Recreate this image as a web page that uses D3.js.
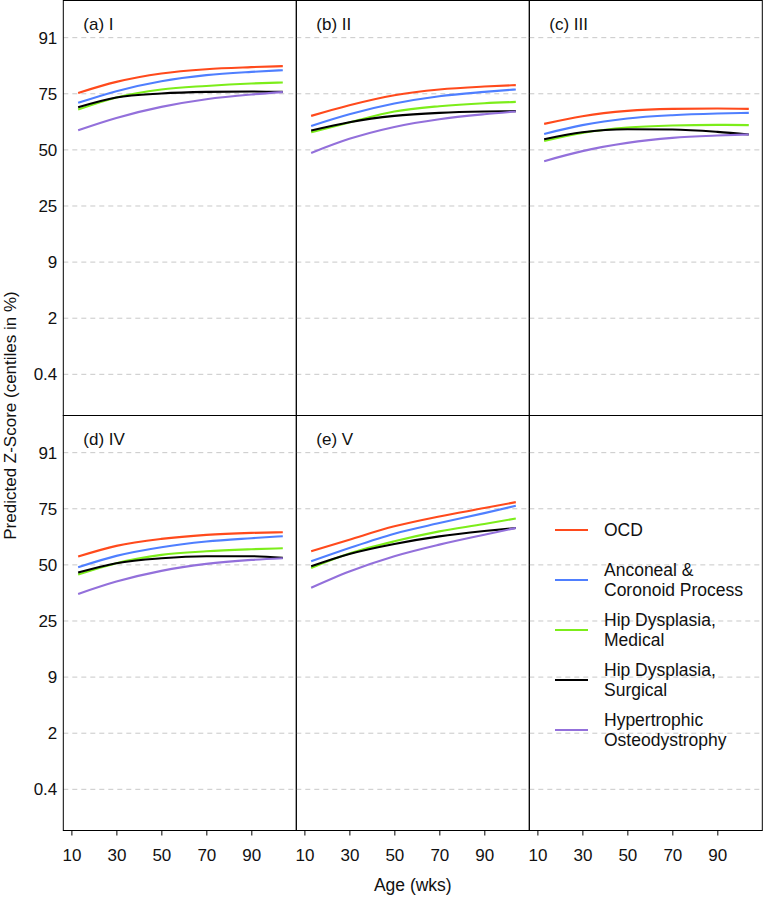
<!DOCTYPE html>
<html>
<head>
<meta charset="utf-8">
<script src="https://cdn.jsdelivr.net/npm/d3@7"></script>
<style>
  html, body { margin: 0; padding: 0; background: #fff; }
  svg { display: block; font-family: "Liberation Sans", Arial, sans-serif; }
</style>
</head>
<body>
<svg id="chart" width="763" height="899"></svg>
<script>
// ---- data (z-scores) ----
const ages = [13, 30, 50, 70, 90, 104];
const panelLabels = ["(a) I", "(b) II", "(c) III", "(d) IV", "(e) V"];
const seriesNames = ["OCD", "Anconeal & Coronoid Process", "Hip Dysplasia, Medical", "Hip Dysplasia, Surgical", "Hypertrophic Osteodystrophy"];
const legendLines = [["OCD"], ["Anconeal &", "Coronoid Process"], ["Hip Dysplasia,", "Medical"], ["Hip Dysplasia,", "Surgical"], ["Hypertrophic", "Osteodystrophy"]];
const seriesColors = ["#ff4a1c", "#4f7fff", "#7ced1a", "#000000", "#9370db"];

// each array: one row per panel (a..e), values at `ages`
const ocd = [
  [0.677, 0.808, 0.908, 0.959, 0.983, 0.995],
  [0.404, 0.531, 0.650, 0.718, 0.753, 0.769],
  [0.309, 0.400, 0.463, 0.487, 0.492, 0.487],
  [0.099, 0.226, 0.309, 0.357, 0.380, 0.388],
  [0.162, 0.300, 0.458, 0.576, 0.675, 0.746]
];
const anconeal = [
  [0.559, 0.698, 0.816, 0.888, 0.927, 0.947],
  [0.285, 0.424, 0.551, 0.638, 0.689, 0.718],
  [0.190, 0.294, 0.373, 0.412, 0.432, 0.440],
  [-0.028, 0.107, 0.210, 0.277, 0.317, 0.341],
  [0.043, 0.201, 0.371, 0.497, 0.615, 0.702]
];
const hipMedical = [
  [0.480, 0.623, 0.718, 0.760, 0.789, 0.801],
  [0.210, 0.326, 0.456, 0.519, 0.555, 0.570],
  [0.107, 0.202, 0.266, 0.290, 0.297, 0.294],
  [-0.115, 0.020, 0.119, 0.162, 0.186, 0.198],
  [-0.036, 0.134, 0.280, 0.398, 0.485, 0.552]
];
const hipSurgical = [
  [0.507, 0.623, 0.670, 0.689, 0.694, 0.689],
  [0.230, 0.329, 0.404, 0.440, 0.456, 0.460],
  [0.127, 0.210, 0.246, 0.242, 0.214, 0.183],
  [-0.091, 0.020, 0.079, 0.103, 0.103, 0.083],
  [-0.016, 0.130, 0.249, 0.339, 0.402, 0.438]
];
const hypertrophic = [
  [0.234, 0.380, 0.511, 0.602, 0.658, 0.686],
  [-0.036, 0.131, 0.273, 0.365, 0.424, 0.456],
  [-0.134, -0.015, 0.083, 0.143, 0.171, 0.183],
  [-0.345, -0.198, -0.071, 0.012, 0.059, 0.079],
  [-0.272, -0.079, 0.103, 0.241, 0.359, 0.438]
];
const allSeries = [ocd, anconeal, hipMedical, hipSurgical, hypertrophic];

const yTickZ = [-8/3, -2, -4/3, -2/3, 0, 2/3, 4/3];
const yTickLabels = ["0.4", "2", "9", "25", "50", "75", "91"];
const xTicks = [10, 30, 50, 70, 90];

// ---- layout ----
const svg = d3.select("#chart");
const left = 63.3, panelW = 233, panelH = 415;
const rowTop = [0.5, 415.5];
const FS = 17;
const x = d3.scaleLinear().domain([6.4, 110.0]).range([0, panelW]);
const y = d3.scaleLinear().domain([-3.156, 1.775]).range([panelH, 0]);
const line = d3.line().x(d => x(d[0])).y(d => y(d[1])).curve(d3.curveMonotoneX);

for (let p = 0; p < 6; p++) {
  const col = p % 3, row = Math.floor(p / 3);
  const g = svg.append("g").attr("transform", `translate(${left + col * panelW},${rowTop[row]})`);

  // gridlines
  g.append("g").selectAll("line").data(yTickZ).join("line")
    .attr("x1", 0).attr("x2", panelW)
    .attr("y1", d => y(d)).attr("y2", d => y(d))
    .attr("stroke", "#c8c8c8").attr("stroke-width", 1)
    .attr("stroke-dasharray", "5,4");

  if (p < 5) {
    allSeries.forEach((s, i) => {
      const pts = ages.map((a, k) => [a, s[p][k]]);
      g.append("path").datum(pts)
        .attr("d", line).attr("fill", "none")
        .attr("stroke", seriesColors[i]).attr("stroke-width", 2.1);
    });
    g.append("text").attr("x", 20).attr("y", 29)
      .attr("font-size", FS).attr("fill", "#111").text(panelLabels[p]);
  } else {
    // legend
    const lg = g.append("g");
    legendLines.forEach((lines, i) => {
      const ly = 114.5 + i * 50;
      lg.append("line").attr("x1", 25.7).attr("x2", 58.7).attr("y1", ly).attr("y2", ly)
        .attr("stroke", seriesColors[i]).attr("stroke-width", 2.1);
      const t = lg.append("text").attr("x", 74.7).attr("font-size", 17.5).attr("fill", "#111");
      const n = lines.length;
      lines.forEach((ln, j) => {
        t.append("tspan").attr("x", 74.7)
          .attr("y", ly + (j - (n - 1) / 2) * 20.5)
          .attr("dy", "0.35em").text(ln);
      });
    });
  }

  // border
  g.append("rect").attr("x", 0).attr("y", 0).attr("width", panelW).attr("height", panelH)
    .attr("fill", "none").attr("stroke", "#000").attr("stroke-width", 1);

  // y-axis labels (first column)
  if (col === 0) {
    const ya = d3.axisLeft(y).tickValues(yTickZ).tickSize(0).tickPadding(6)
      .tickFormat((d, i) => yTickLabels[i]);
    const yg = g.append("g").call(ya);
    yg.select(".domain").remove();
    yg.selectAll("text").attr("font-size", FS).attr("fill", "#111")
      .attr("font-family", "Liberation Sans, Arial, sans-serif");
  }
  // x-axis (bottom row)
  if (row === 1) {
    const xa = d3.axisBottom(x).tickValues(xTicks).tickSize(5).tickPadding(13).tickFormat(d3.format("d"));
    const xg = g.append("g").attr("transform", `translate(0,${panelH})`).call(xa);
    xg.select(".domain").remove();
    xg.selectAll("line").attr("stroke", "#000");
    xg.selectAll("text").attr("font-size", FS).attr("fill", "#111")
      .attr("font-family", "Liberation Sans, Arial, sans-serif");
  }
}

// axis titles
svg.append("text").attr("x", left + 1.5 * panelW).attr("y", 891)
  .attr("text-anchor", "middle").attr("font-size", 17.5).attr("fill", "#111").text("Age (wks)");
svg.append("text").attr("transform", `translate(16,${415.5}) rotate(-90)`)
  .attr("text-anchor", "middle").attr("font-size", 17).attr("fill", "#111")
  .text("Predicted Z-Score (centiles in %)");
</script>
</body>
</html>
